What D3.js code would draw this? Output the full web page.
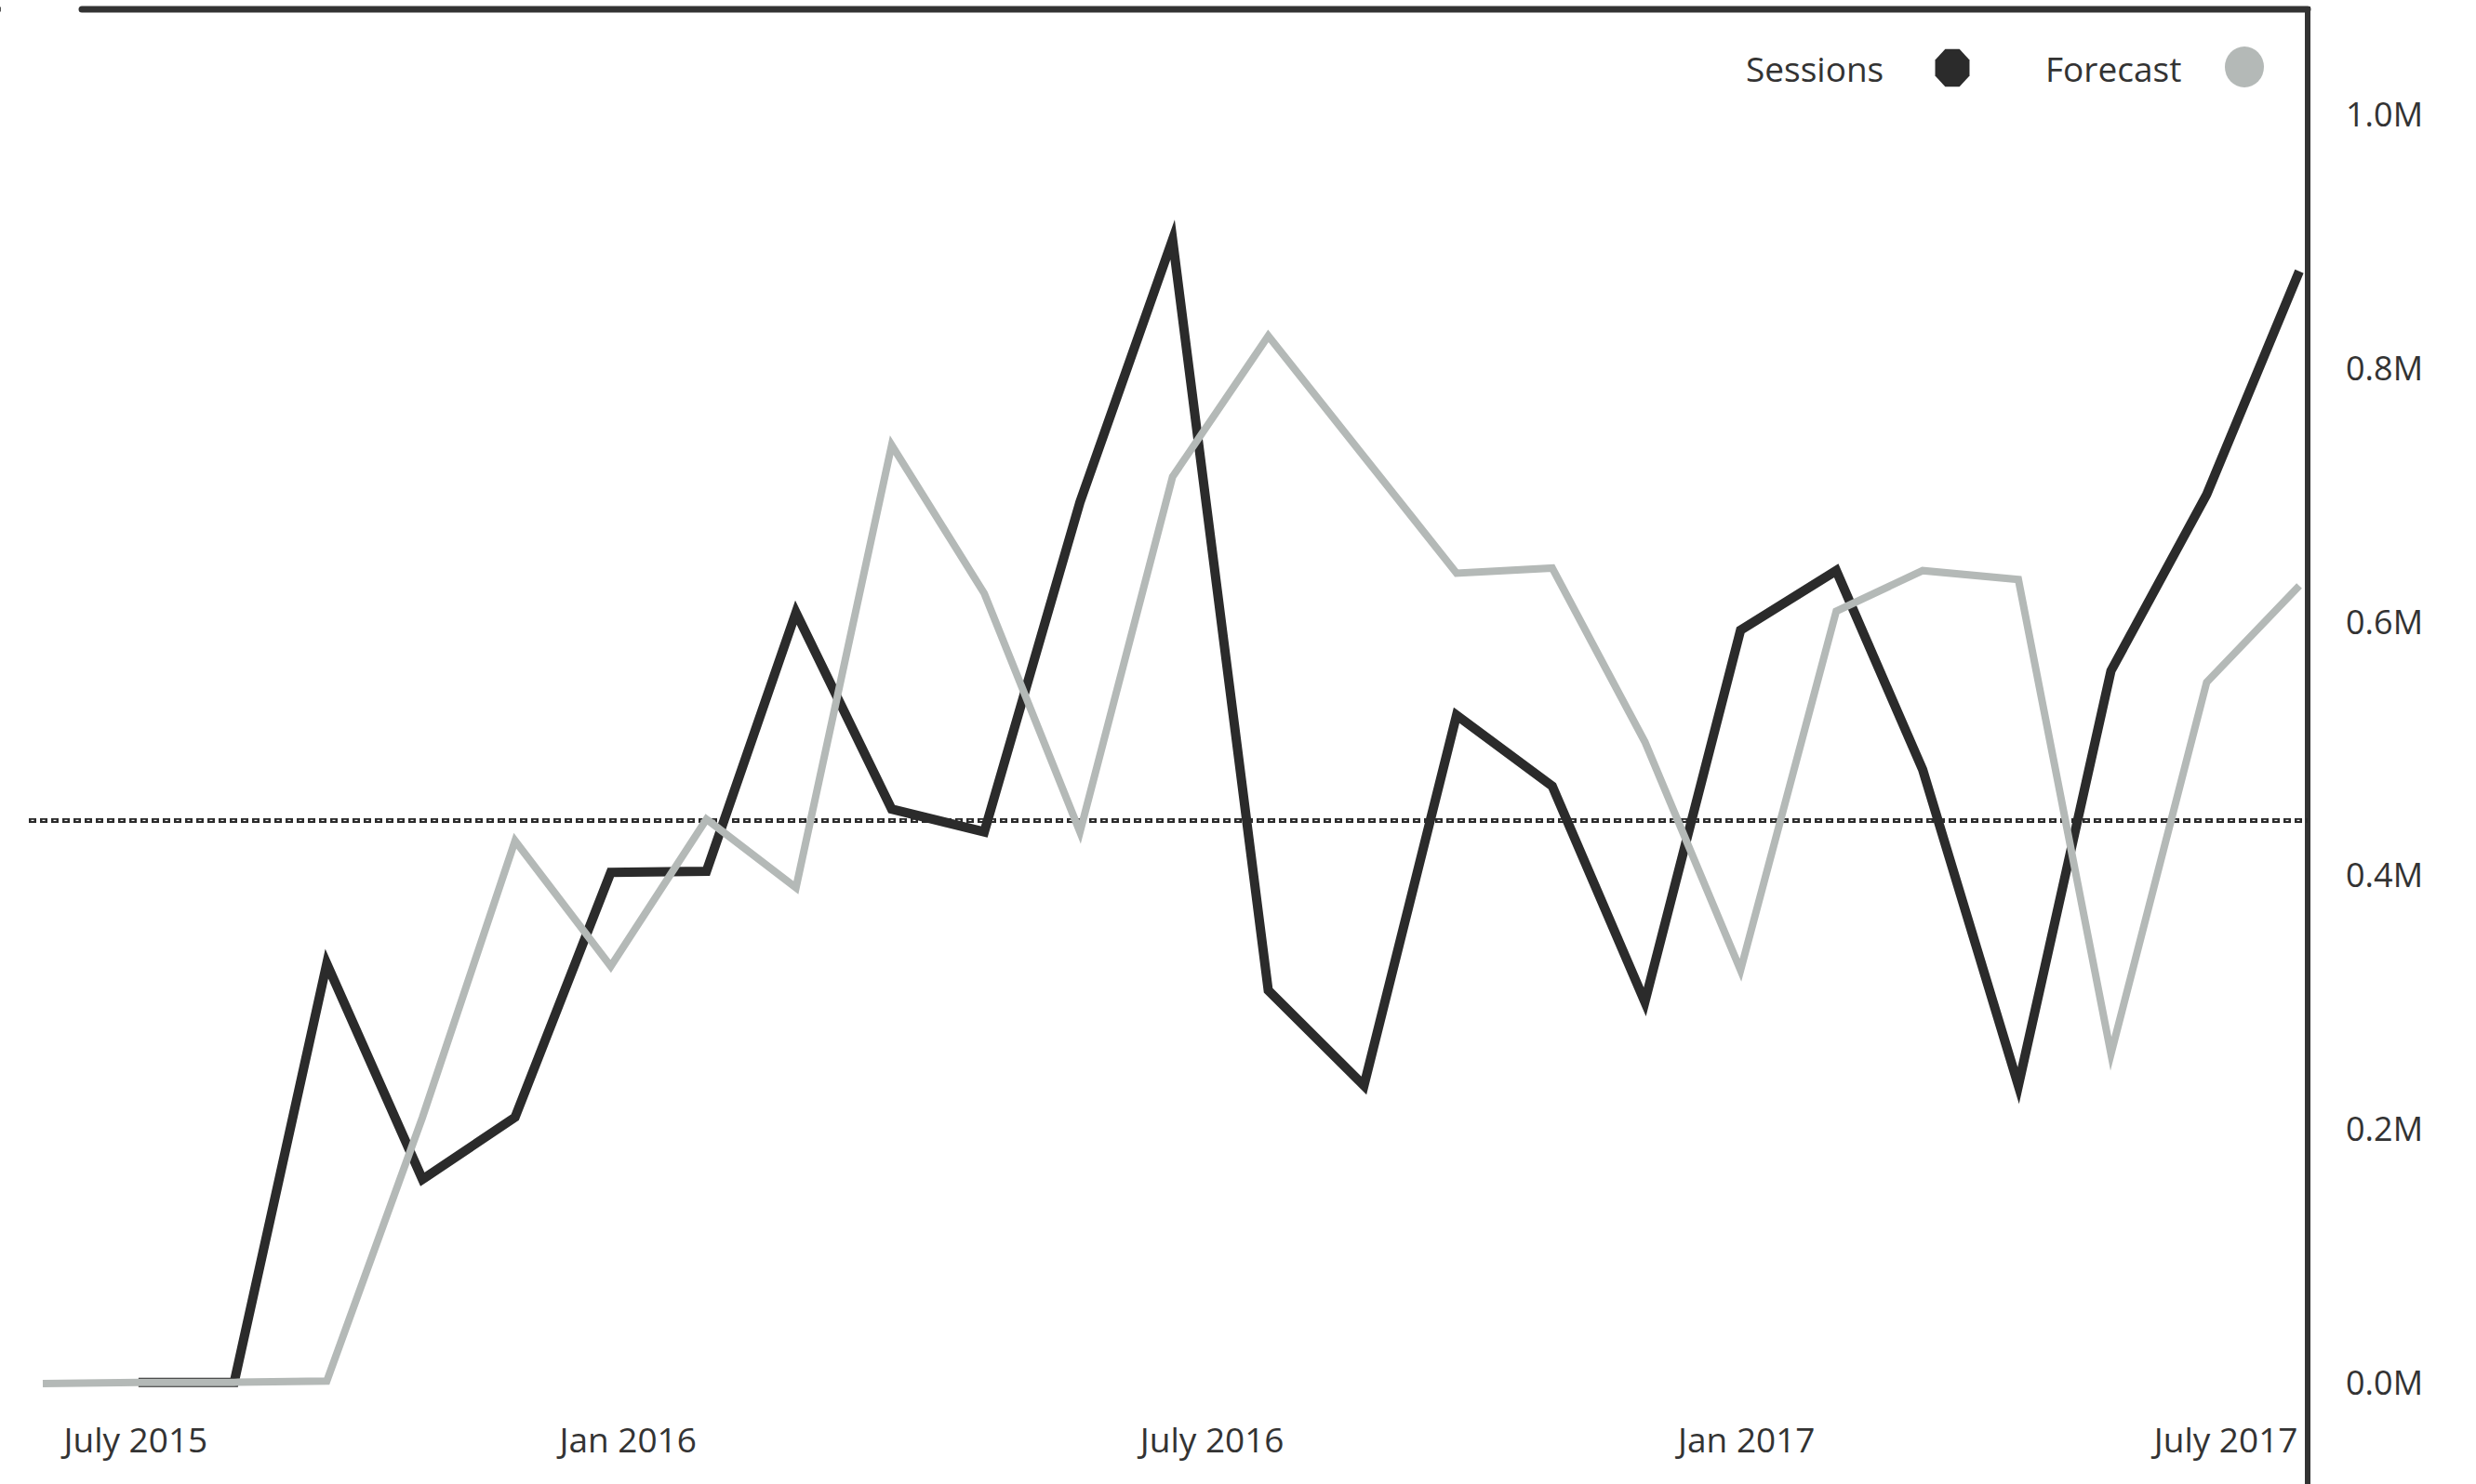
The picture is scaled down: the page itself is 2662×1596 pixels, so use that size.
<!DOCTYPE html>
<html>
<head>
<meta charset="utf-8">
<script src="https://cdn.jsdelivr.net/npm/d3@7"></script>
<style>
  body { margin: 0; background: #fff; }
  svg { display: block; }
  text { font-family: "Open Sans", sans-serif; fill: #333; }
</style>
</head>
<body>
<div id="chart"></div>
<script>
// monthly data, July 2015 - July 2017 (values in sessions)
var months = ["2015-07", "2015-08", "2015-09", "2015-10", "2015-11", "2015-12",
    "2016-01", "2016-02", "2016-03", "2016-04", "2016-05", "2016-06",
    "2016-07", "2016-08", "2016-09", "2016-10", "2016-11", "2016-12",
    "2017-01", "2017-02", "2017-03", "2017-04", "2017-05", "2017-06", "2017-07"];

var sessions = [null, 1000, 1000, 331000, 161000, 210000,
    403000, 404000, 608000, 453000, 435000, 695000,
    902000, 310000, 235000, 527000, 471000, 301000,
    594000, 641000, 484000, 235000, 562000, 701000, 877000];

var forecast = [0, 1000, 1000, 2000, 210000, 428000,
    329000, 445000, 391000, 740000, 623000, 435000,
    715000, 826000, 731000, 639000, 643000, 506000,
    326000, 609000, 641000, 634000, 260000, 553000, 629000];

var avgLine = 444000;

var xTickMonths = ["2015-07", "2016-01", "2016-07", "2017-01", "2017-07"];
var xTickLabels = ["July 2015", "Jan 2016", "July 2016", "Jan 2017", "July 2017"];
var yTicks = [0, 200000, 400000, 600000, 800000, 1000000];

var seriesNames = ["Sessions", "Forecast"];
var seriesColors = ["#2b2b2b", "#b4b9b7"];

var W = 2662, H = 1596;
var axisX = 2481, frameTop = 10;

var parse = d3.timeParse("%Y-%m");
var dates = months.map(parse);

var svg = d3.select("#chart").append("svg")
    .attr("width", W)
    .attr("height", H);

var x = d3.scaleTime()
    .domain([dates[0], dates[dates.length - 1]])
    .range([46, 2472]);

var y = d3.scaleLinear()
    .domain([0, 1000000])
    .range([1488, 124]);

// frame: top line + right axis line
svg.append("line")
    .attr("x1", 88).attr("x2", axisX)
    .attr("y1", frameTop).attr("y2", frameTop)
    .attr("stroke", "#333").attr("stroke-width", 7)
    .attr("stroke-linecap", "round");
svg.append("line")
    .attr("x1", -4).attr("x2", 1)
    .attr("y1", frameTop).attr("y2", frameTop)
    .attr("stroke", "#555").attr("stroke-width", 5);
svg.append("line")
    .attr("x1", axisX).attr("x2", axisX)
    .attr("y1", frameTop - 3).attr("y2", H)
    .attr("stroke", "#333").attr("stroke-width", 6);

// average (dashed) line
var yAvg = y(avgLine);
svg.append("line")
    .attr("x1", 31).attr("x2", axisX)
    .attr("y1", yAvg).attr("y2", yAvg)
    .attr("stroke", "#2b2b2b").attr("stroke-width", 5)
    .attr("stroke-dasharray", "8 4");
svg.append("line")
    .attr("x1", 31).attr("x2", axisX)
    .attr("y1", yAvg).attr("y2", yAvg)
    .attr("stroke", "#fff").attr("stroke-width", 1.3)
    .attr("stroke-dasharray", "3 9")
    .attr("stroke-dashoffset", -2.5);

// lines
function drawSeries(values, color, width) {
    var line = d3.line()
        .defined(function(d) { return d != null; })
        .x(function(d, i) { return x(dates[i]); })
        .y(function(d) { return y(d); });
    svg.append("path")
        .datum(values)
        .attr("fill", "none")
        .attr("stroke", color)
        .attr("stroke-width", width)
        .attr("stroke-linejoin", "miter")
        .attr("stroke-miterlimit", 10)
        .attr("d", line);
}
drawSeries(sessions, seriesColors[0], 10);
drawSeries(forecast, seriesColors[1], 8);

// x axis
var xAxis = svg.append("g")
    .attr("transform", "translate(0,1562)")
    .call(d3.axisBottom(x)
        .tickValues(xTickMonths.map(parse))
        .tickSize(0)
        .tickFormat(function(d, i) { return xTickLabels[i]; }));
xAxis.select(".domain").remove();
xAxis.selectAll("text")
    .attr("y", 0).attr("dy", 0)
    .style("font-family", "Open Sans")
    .style("font-size", "37px")
    .attr("fill", "#333");
// label nudges as in the original rendering
xAxis.selectAll(".tick text")
    .attr("x", function(d, i) { return [22, 18, 42, 6, -2][i]; })
    .attr("text-anchor", function(d, i) {
        return i === 0 ? "start" : (i === xTickMonths.length - 1 ? "end" : "middle");
    });

// y axis (right)
var yAxis = svg.append("g")
    .attr("transform", "translate(" + axisX + ",0)")
    .call(d3.axisRight(y)
        .tickValues(yTicks)
        .tickSize(0)
        .tickPadding(41)
        .tickFormat(function(d) { return (d / 1000000).toFixed(1) + "M"; }));
yAxis.select(".domain").remove();
yAxis.selectAll("text")
    .style("font-family", "Open Sans")
    .style("font-size", "36px")
    .attr("fill", "#333");

// legend
var legY = 73;
svg.append("text")
    .attr("x", 1877).attr("y", legY)
    .attr("dominant-baseline", "central")
    .style("font-size", "37px")
    .text(seriesNames[0]);
var oct = d3.range(8).map(function(k) {
    var a = Math.PI / 8 + k * Math.PI / 4;
    return [2099 + 20 * Math.cos(a), legY + 22 * Math.sin(a)];
});
svg.append("path")
    .attr("d", d3.line()(oct) + "Z")
    .attr("fill", seriesColors[0]);

svg.append("text")
    .attr("x", 2199).attr("y", legY)
    .attr("dominant-baseline", "central")
    .style("font-size", "37px")
    .text(seriesNames[1]);
svg.append("ellipse")
    .attr("cx", 2413).attr("cy", legY - 1)
    .attr("rx", 21).attr("ry", 22)
    .attr("fill", seriesColors[1]);
</script>
</body>
</html>
